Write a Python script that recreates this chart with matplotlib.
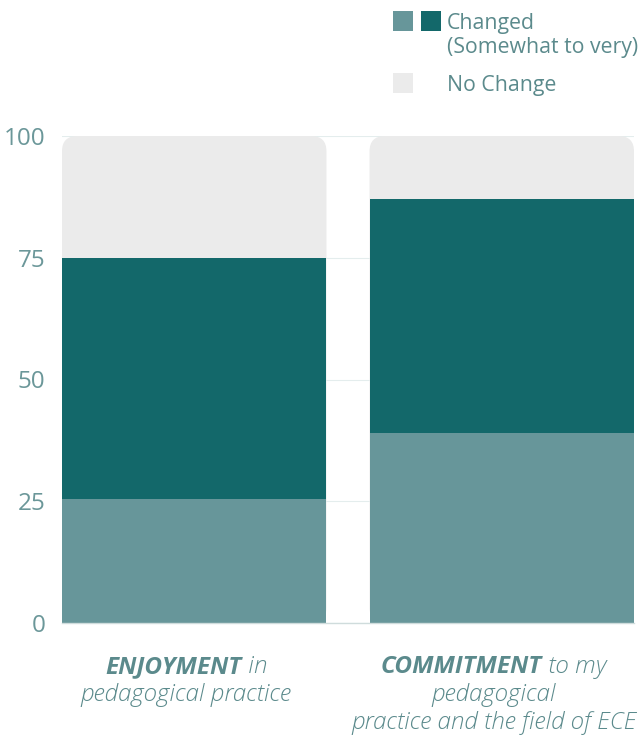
import matplotlib.pyplot as plt
from matplotlib.patches import FancyBboxPatch, Rectangle

# Data (percent of respondents)
categories = ["ENJOYMENT", "COMMITMENT"]
label_rest = [["in", "pedagogical practice"],
              ["to my", "pedagogical", "practice and the field of ECE"]]
somewhat = [25.5, 39.0]
very = [49.5, 48.0]
no_change = [25.0, 13.0]

C_LIGHT = "#67969a"
C_DARK = "#13686a"
C_GREY = "#ebebeb"
C_TEXT = "#5b8a8c"
C_TICK = "#6b9799"

plt.rcParams['font.family'] = ['Open Sans', 'DejaVu Sans']

fig = plt.figure(figsize=(6.41, 7.38), dpi=100)
ax = fig.add_axes([62 / 641, 115 / 738, 572 / 641, 487 / 738])

x = list(range(len(categories)))
width = 0.86

ax.bar(x, somewhat, width=width, color=C_LIGHT, zorder=3)
ax.bar(x, very, width=width, bottom=somewhat, color=C_DARK, zorder=3)
tops = [s + v for s, v in zip(somewhat, very)]
grey = ax.bar(x, no_change, width=width, bottom=tops, color=C_GREY, zorder=2)

# swap grey segments for rounded-top boxes (extended down, bottom hidden)
for b in grey:
    b.set_visible(False)
    rb = FancyBboxPatch((b.get_x(), 0), b.get_width(), b.get_y() + b.get_height(),
                        boxstyle="round,pad=0,rounding_size=0.05",
                        mutation_aspect=63, fc=C_GREY, ec="none", zorder=2)
    ax.add_patch(rb)

ax.set_xlim(-width / 2, 1 + width / 2)
ax.set_ylim(0, 100)
ax.set_yticks([0, 25, 50, 75, 100])
ax.tick_params(axis='y', length=0, pad=12, labelsize=17.5, labelcolor=C_TICK)
ax.set_xticks([])
ax.grid(axis='y', color="#e4eded", linewidth=0.8, zorder=0)
ax.set_axisbelow(True)
for s in ["top", "right", "left"]:
    ax.spines[s].set_visible(False)
ax.spines["bottom"].set_color("#cfdcdc")
ax.spines["bottom"].set_linewidth(1.0)
ax.spines["bottom"].set_zorder(4)

# category labels: bold italic keyword followed by light italic text
fig.canvas.draw()
renderer = fig.canvas.get_renderer()
fs = 17.5
line_h = 28 / 738
for i, cat in enumerate(categories):
    cx = (ax.transData.transform((x[i], 0))[0] - 8) / fig.bbox.width
    y0 = 1 - 673 / 738
    t1 = fig.text(0, y0, cat, fontsize=fs, style='italic', weight='bold',
                  color=C_TEXT, va='baseline')
    t2 = fig.text(0, y0, " " + label_rest[i][0], fontsize=fs, style='italic',
                  weight='light', color=C_TEXT, va='baseline')
    w1 = t1.get_window_extent(renderer).width / fig.bbox.width
    w2 = t2.get_window_extent(renderer).width / fig.bbox.width
    start = cx - (w1 + w2) / 2
    t1.set_x(start)
    t2.set_x(start + w1)
    for k, line in enumerate(label_rest[i][1:]):
        fig.text(cx, y0 - (k + 1) * line_h, line, fontsize=fs, style='italic',
                 weight='light', color=C_TEXT, ha='center', va='baseline')

# legend
W, H = 641, 738
def sq(px, py, c):
    fig.patches.append(Rectangle((px / W, 1 - (py + 20) / H), 20 / W, 20 / H,
                                 transform=fig.transFigure, fc=c, ec="none"))
sq(393, 11, C_LIGHT)
sq(421, 11, C_DARK)
sq(393, 73, C_GREY)
lfs = 15.3
fig.text(447 / W, 1 - 23 / H, "Changed", fontsize=lfs, color=C_TEXT, va='center')
fig.text(447 / W, 1 - 47 / H, "(Somewhat to very)", fontsize=lfs, color=C_TEXT, va='center')
fig.text(447 / W, 1 - 85 / H, "No Change", fontsize=lfs, color=C_TEXT, va='center')

fig.savefig("out.png", dpi=100)
